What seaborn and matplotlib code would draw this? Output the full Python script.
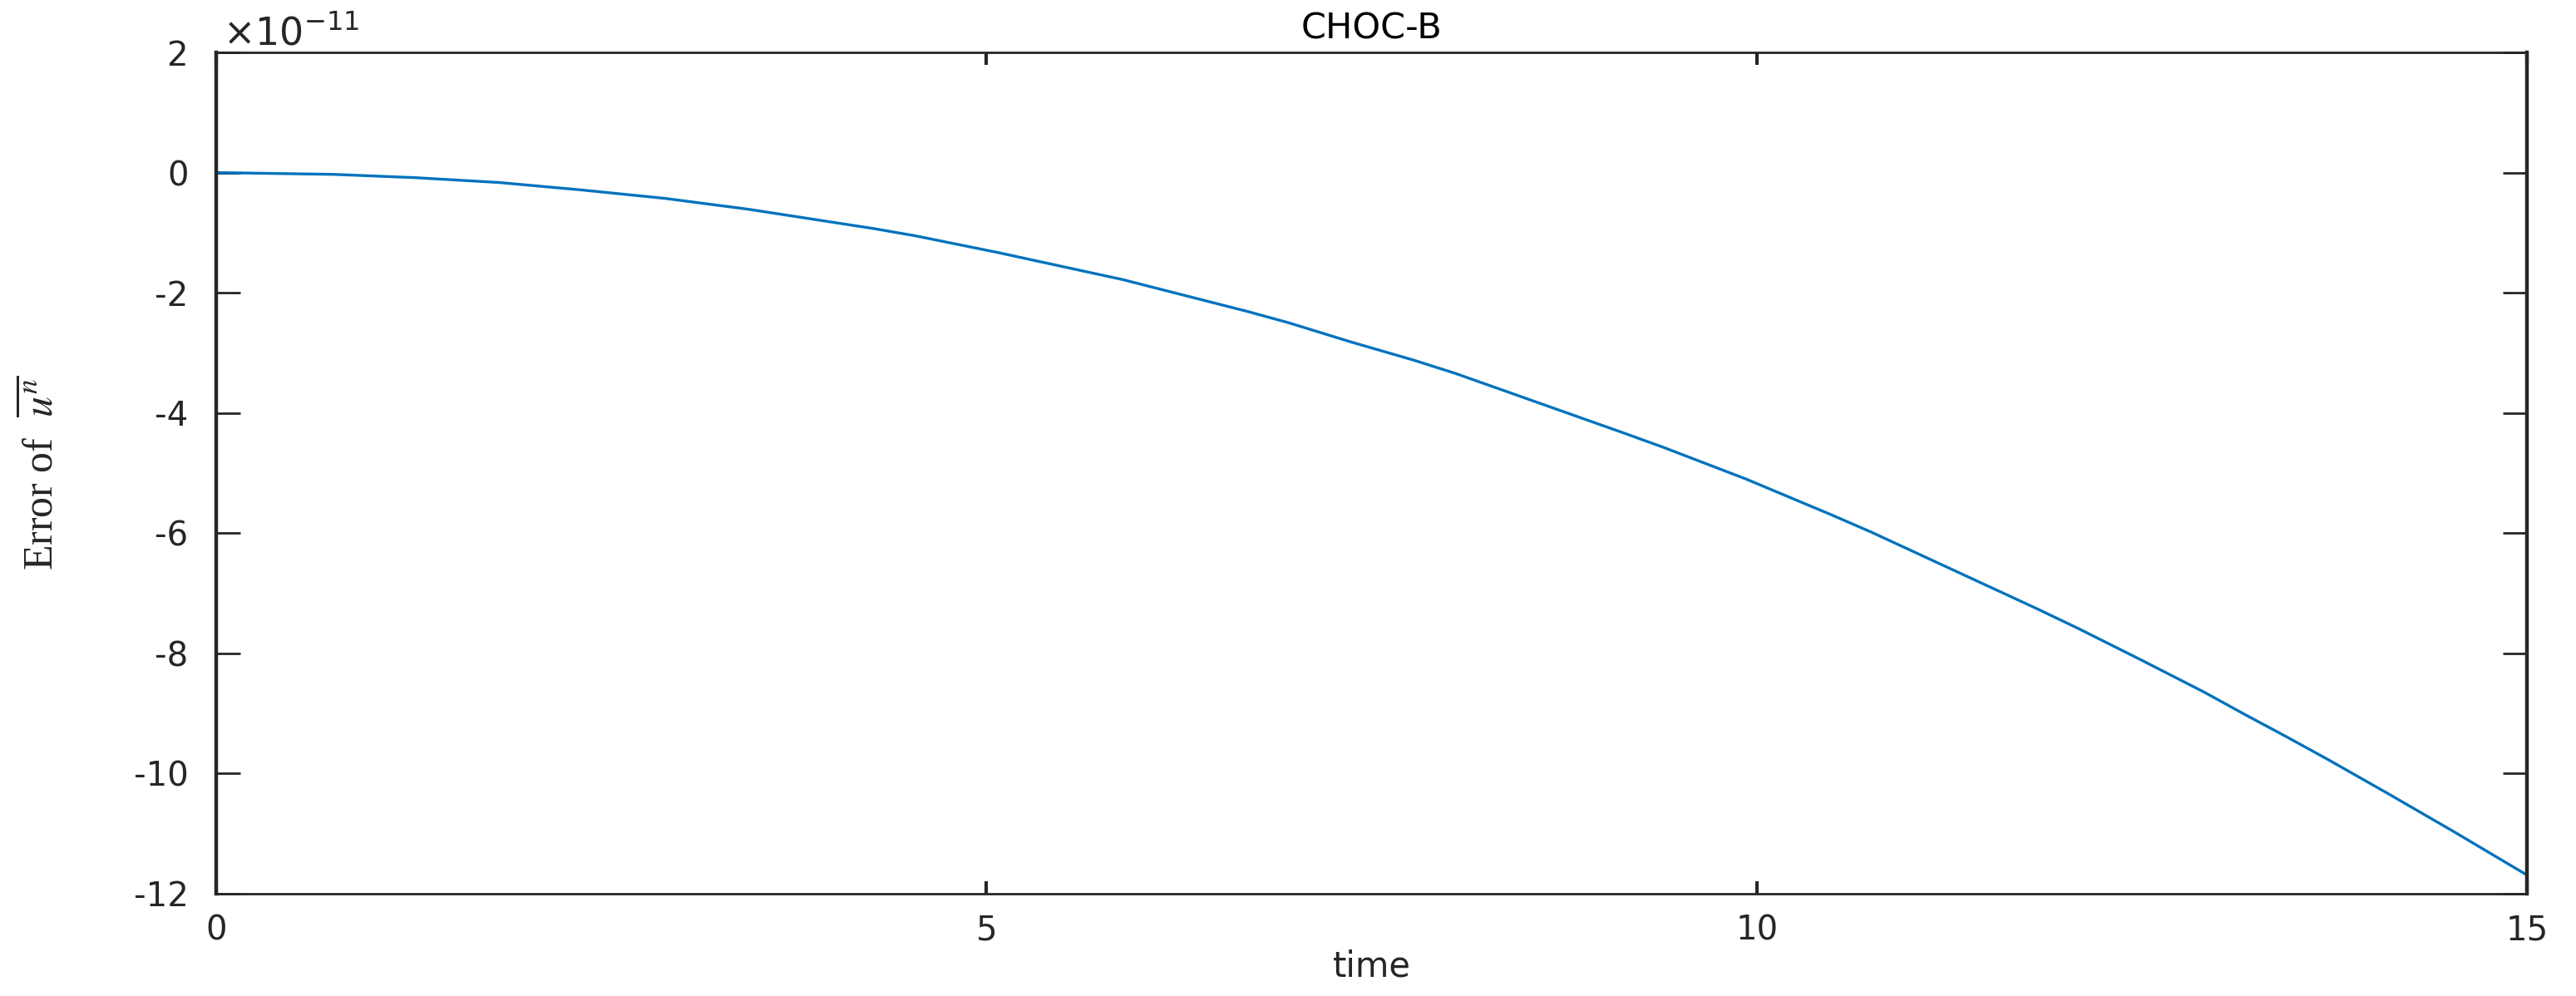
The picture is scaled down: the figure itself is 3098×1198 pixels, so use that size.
import numpy as np
import pandas as pd
import matplotlib
matplotlib.use("Agg")
import matplotlib.pyplot as plt
import seaborn as sns

# Style
sns.set_style("ticks")
plt.rcParams['font.family'] = ['DejaVu Sans']
plt.rcParams['axes.unicode_minus'] = False

# Data (error values in units of 1e-11)
time_vals = [0.0, 0.765, 1.295, 1.835, 2.375, 2.915, 3.454, 4.264, 4.534, 5.074,
             5.613, 5.883, 6.693, 6.963, 7.368, 7.772, 8.042, 9.122, 9.392, 9.931,
             10.471, 10.741, 11.821, 12.09, 12.495, 12.9, 13.17, 13.44, 13.71, 14.088,
             14.52, 15.0]
error_e11 = [0.0, -0.03, -0.085, -0.165, -0.29, -0.43, -0.61, -0.93, -1.05, -1.33,
             -1.63, -1.78, -2.31, -2.50, -2.82, -3.12, -3.34, -4.32, -4.57, -5.10,
             -5.68, -5.98, -7.26, -7.59, -8.11, -8.64, -9.02, -9.39, -9.77, -10.32,
             -10.96, -11.69]

x_ticks = [0, 5, 10, 15]
y_ticks = [-12, -10, -8, -6, -4, -2, 0, 2]

df = pd.DataFrame({'time': time_vals, 'err': error_e11})

fig = plt.figure(figsize=(30.98, 11.98), dpi=100)
ax = fig.add_axes([0.0839, 0.1027, 0.8971, 0.8447])

sns.lineplot(data=df, x='time', y='err', color='#0072BD', linewidth=2.4, sort=False, ax=ax)

ax.set_xlim(0, 15)
ax.set_ylim(-12, 2)
ax.set_xticks(x_ticks)
ax.set_yticks(y_ticks)

# Axes look (box with inward ticks on every side)
for side in ['left', 'right']:
    ax.spines[side].set_linewidth(3.2)
    ax.spines[side].set_color('#262626')
for side in ['top', 'bottom']:
    ax.spines[side].set_linewidth(2.0)
    ax.spines[side].set_color('#262626')

ax.tick_params(axis='y', direction='in', length=21, width=2.0, color='#262626',
               labelsize=29, labelcolor='#262626', pad=24, left=True, right=True)
ax.tick_params(axis='x', direction='in', length=11, width=3.0, color='#262626',
               labelsize=29, labelcolor='#262626', pad=18, bottom=True, top=True)

# exponent multiplier above the y axis
ax.text(0.003, 1.008, r"$\times10^{-11}$", transform=ax.transAxes, fontsize=33,
        color='#262626', ha='left', va='baseline')

ax.set_title("CHOC-B", fontsize=31, color='black', pad=12)
ax.set_xlabel("time", fontsize=30, color='#262626')
ax.xaxis.set_label_coords(0.5, -0.066)

ylab = ax.set_ylabel(r"Error of  $\overline{u^n}$", fontsize=36, color='#262626',
                     family='Liberation Serif')
ylab.set_math_fontfamily('stix')
ax.yaxis.set_label_coords(-0.0666, 0.5)

fig.savefig("out.png", dpi=100)
